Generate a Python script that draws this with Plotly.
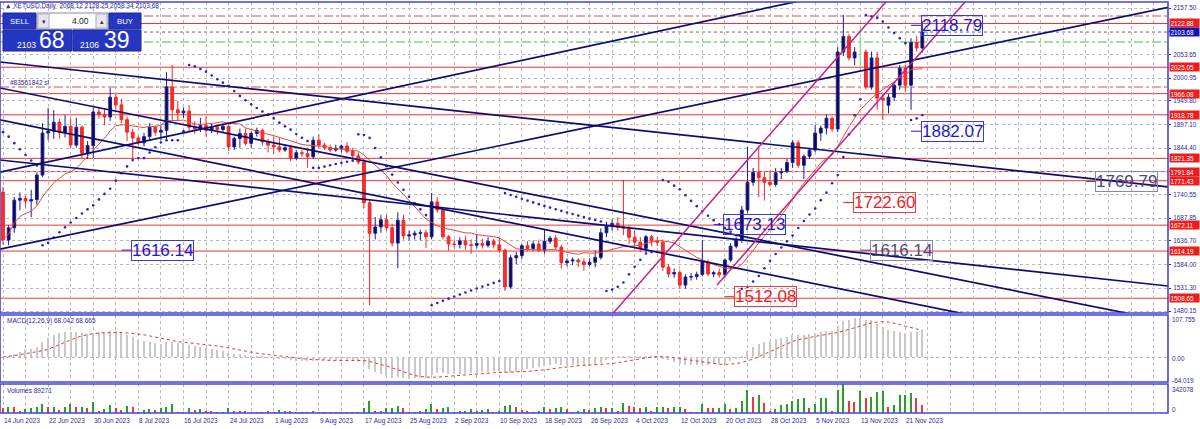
import pandas as pd
import numpy as np
import plotly.graph_objects as go

START = pd.Timestamp("2023-06-14")
dates = pd.date_range(START, periods=164, freq="D")

opens = [1746,1639,1666,1728,1732,1726,1729,1784,1878,1882,1902,1880,1893,1851,1891,1833,1850,1925,1920,1914,
         1958,1941,1908,1880,1867,1856,1870,1891,1880,1884,1981,1930,1923,1927,1891,1887,1895,1884,1891,1886,
         1893,1847,1866,1877,1855,1877,1884,1858,1851,1847,1840,1845,1822,1834,1832,1825,1862,1851,1845,1840,
         1844,1849,1837,1827,1813,1722,1654,1668,1684,1666,1632,1683,1648,1650,1654,1655,1646,1724,1706,1646,
         1630,1629,1637,1628,1627,1631,1627,1636,1628,1616,1534,1599,1604,1626,1620,1630,1616,1636,1643,1623,
         1588,1592,1594,1590,1584,1589,1600,1655,1670,1676,1668,1665,1645,1634,1620,1646,1636,1634,1578,1563,
         1566,1538,1556,1557,1562,1590,1563,1566,1561,1594,1625,1640,1706,1768,1790,1778,1768,1763,1789,1792,
         1812,1856,1806,1826,1840,1878,1889,1911,1887,2059,2094,2046,2059,2059,1981,2046,1956,1940,1958,1985,
         2023,1985,2081,2068.12]
highs = [1757,1672,1735,1745,1738,1751,1790,1900,1934,1929,1910,1918,1910,1912,1895,1860,1935,1935,1932,1979,
         1965,1955,1915,1888,1872,1878,1900,1895,1895,2014,2030,1950,1935,1940,1905,1912,1915,1898,1896,1900,
         1897,1870,1888,1888,1882,1890,1888,1865,1870,1868,1852,1850,1840,1840,1845,1870,1875,1856,1852,1852,
         1852,1858,1845,1835,1820,1728,1690,1695,1695,1675,1701,1695,1660,1660,1662,1662,1744,1735,1712,1650,
         1640,1645,1648,1640,1652,1642,1645,1642,1645,1620,1605,1612,1630,1636,1638,1640,1661,1648,1650,1628,
         1598,1600,1598,1598,1598,1615,1665,1680,1685,1690,1773,1672,1660,1645,1650,1650,1645,1640,1585,1575,
         1572,1562,1565,1568,1639,1595,1570,1575,1598,1632,1645,1715,1847,1800,1850,1792,1795,1800,1800,1820,
         1862,1862,1830,1845,1896,1895,1920,1915,2070,2142,2100,2070,2119,2065,2060,2060,1965,1965,1990,2030,
         2030,2090,2095,2128.25]
lows = [1628,1627,1655,1705,1712,1690,1718,1780,1862,1865,1865,1868,1845,1845,1820,1820,1822,1910,1895,1905,
        1930,1900,1860,1822,1850,1848,1860,1872,1862,1862,1905,1905,1912,1882,1876,1880,1870,1878,1875,1880,
        1838,1840,1845,1850,1845,1870,1850,1835,1832,1835,1836,1815,1818,1825,1800,1820,1845,1840,1835,1836,
        1835,1832,1820,1808,1710,1493,1640,1655,1660,1625,1576,1640,1638,1640,1638,1621,1640,1700,1640,1615,
        1620,1620,1617,1608,1620,1620,1622,1620,1610,1525,1530,1585,1596,1615,1615,1612,1608,1630,1618,1575,
        1580,1583,1578,1570,1580,1578,1595,1645,1660,1660,1650,1630,1625,1612,1612,1625,1625,1570,1555,1555,
        1530,1530,1548,1550,1558,1558,1555,1555,1555,1590,1620,1632,1700,1760,1735,1727,1758,1758,1775,1788,
        1800,1800,1775,1820,1835,1860,1875,1880,1880,2050,2040,2030,2026,1975,1975,1930,1907,1922,1950,1975,
        1970,1930,2060,2058.34]
closes = [1639,1666,1728,1732,1726,1729,1784,1878,1882,1902,1880,1893,1851,1891,1833,1850,1925,1920,1914,1958,
          1941,1908,1880,1867,1856,1870,1891,1880,1884,1981,1930,1923,1927,1891,1887,1895,1884,1891,1886,1893,
          1847,1866,1877,1855,1877,1884,1858,1851,1847,1840,1845,1822,1834,1832,1825,1862,1851,1845,1840,1844,
          1849,1837,1827,1813,1722,1654,1668,1684,1666,1632,1683,1648,1650,1654,1655,1646,1724,1706,1646,1630,
          1629,1637,1628,1627,1631,1627,1636,1628,1616,1534,1599,1604,1626,1620,1630,1616,1636,1643,1623,1588,
          1592,1594,1590,1584,1589,1600,1655,1670,1676,1668,1665,1645,1634,1620,1646,1636,1634,1578,1563,1566,
          1538,1556,1557,1562,1590,1563,1566,1561,1594,1625,1640,1706,1768,1790,1778,1768,1763,1789,1792,1812,
          1856,1806,1826,1840,1878,1889,1911,1887,2059,2094,2046,2059,2059,1981,2046,1956,1952,1958,1985,2023,
          1985,2081,2068,2103.68]
volumes = [55000,74700,66800,27500,47200,59000,70800,106200,70800,74700,35400,66800,106200,66800,74700,55000,133700,27500,47200,90400,
           55000,35400,82600,66800,7900,35400,51100,35400,62900,74700,102200,7900,3900,55000,35400,47200,27500,15700,3900,11800,
           55000,27500,28500,23600,11800,3900,11800,23600,3900,35400,15700,23600,3900,3900,7900,23600,11800,3900,2000,2000,
           3900,3900,7900,11800,62900,141600,23600,22000,55000,57000,86500,55000,3900,3900,15700,47200,106200,51100,59000,66800,
           11800,19700,27500,47200,19700,35400,47200,3900,19700,86500,90000,66800,35400,23600,11800,15700,66800,47200,55000,66800,
           47200,7900,15700,51100,35400,55000,66800,59000,61000,15700,114000,82600,66800,59000,66800,15700,66800,74700,62900,74700,
           76000,47200,3900,11800,106200,59000,58000,62900,102200,43300,55000,145500,271300,184800,212300,114000,27500,43300,94400,106200,
           145500,161200,173000,55000,102200,173000,177000,15700,271300,342078,145500,133700,259500,177000,184800,243800,255600,66800,94400,208400,
           212000,235900,173000,89271]

# levels and price scale
red_levels = [2122.88, 2025.05, 1966.08, 1918.78, 1821.35, 1791.84, 1771.43, 1672.11, 1614.19, 1508.65]
red_dashdot_levels = [2139.60, 1980.90]
green_dashdot_levels = [2081.50]
bid_price = 2103.68
price_ticks = [2157.50, 2105.58, 2053.65, 2000.95, 1949.80, 1897.10, 1844.40, 1792.48,
               1740.55, 1687.85, 1636.70, 1584.00, 1531.30, 1480.15]
price_tick_text = ["2157.50", "", "2053.65", "2000.95", "1949.80", "1897.10", "1844.40", "",
                   "1740.55", "1687.85", "1636.70", "1584.00", "1531.30", "1480.15"]

# trend lines: (date, price) anchor pairs
navy_line_dates = [("2023-06-14", "2023-11-21"), ("2023-06-14", "2023-09-22"), ("2023-06-14", "2023-11-21"),
                   ("2023-06-14", "2023-09-22"), ("2023-06-14", "2023-09-22"), ("2023-06-14", "2023-09-22")]
navy_line_prices = [(1620.1, 2037.5), (1792.2, 2062.0), (2036.1, 1820.3),
                    (1977.3, 1725.3), (1905.8, 1652.3), (1817.0, 1681.0)]
# pink channel: first line crosses the whole pane, second one starts at its first anchor
pink_line_dates = [("2023-10-22 00:00", "2023-11-11 00:00"), ("2023-10-18 14:24", "2023-11-11 00:00")]
pink_line_prices = [(1789.1, 2076.8), (1538.3, 1875.0)]
pink_starts_at_anchor = [False, True]

# price labels drawn on the chart
label_texts = ["1616.14", "1673.13", "1616.14", "1512.08", "1722.60", "1882.07", "2118.79", "1769.79"]
label_values = [1616.14, 1673.13, 1616.14, 1512.08, 1722.60, 1882.07, 2118.79, 1769.79]
label_dates = ["2023-07-05", "2023-10-18", "2023-11-13", "2023-10-20", "2023-11-10", "2023-11-22", "2023-11-22", "2023-12-23"]
label_kinds = ["blue", "blue", "gray", "red", "red", "blue", "blue", "gray"]

date_labels = ["14 Jun 2023", "22 Jun 2023", "30 Jun 2023", "8 Jul 2023", "16 Jul 2023", "24 Jul 2023",
               "1 Aug 2023", "9 Aug 2023", "17 Aug 2023", "25 Aug 2023", "2 Sep 2023", "10 Sep 2023",
               "18 Sep 2023", "26 Sep 2023", "4 Oct 2023", "12 Oct 2023", "20 Oct 2023", "28 Oct 2023",
               "5 Nov 2023", "13 Nov 2023", "21 Nov 2023"]

macd_max, macd_min = 107.755, -64.019
macd_shown = (68.042, 68.665)
vol_max = 342078
doji_index = [152]
sar_start = 1880.0

# ---------------- figure geometry ----------------
W, H = 1200, 429
PW, PH = 1168, 413           # plot area (pixels)
def px(x): return x / PW
def py(y): return 1 - y / PH

FONT = "Liberation Sans"
NAVY_TXT = "#2b2b9a"

close_s = pd.Series(closes, dtype=float)
ma = close_s.rolling(14, min_periods=1).mean()
ema12 = close_s.ewm(span=12, adjust=False).mean()
ema26 = close_s.ewm(span=26, adjust=False).mean()
macd_main = ema12 - ema26
macd_signal = macd_main.rolling(9, min_periods=1).mean()

def psar(hi, lo, s0, step=0.02, amax=0.2):
    n = len(hi)
    out = [s0]
    up = False
    s, ep, af = s0, lo[0], step * 2
    for i in range(1, n):
        s = s + af * (ep - s)
        if up:
            s = min(s, lo[i - 1], lo[i - 2] if i >= 2 else lo[i - 1])
            if lo[i] < s:
                up, s, ep, af = False, ep, lo[i], step
            elif hi[i] > ep:
                ep, af = hi[i], min(af + step, amax)
        else:
            s = max(s, hi[i - 1], hi[i - 2] if i >= 2 else hi[i - 1])
            if hi[i] > s:
                up, s, ep, af = True, ep, hi[i], step
            elif lo[i] < ep:
                ep, af = lo[i], min(af + step, amax)
        out.append(s)
    return out

sar = psar(highs, lows, sar_start)

o_c = list(opens); h_c = list(highs); l_c = list(lows); c_c = list(closes)
for i in doji_index:
    o_c[i] = h_c[i] = l_c[i] = c_c[i] = None

fig = go.Figure()

fig.add_trace(go.Candlestick(
    x=dates, open=o_c, high=h_c, low=l_c, close=c_c,
    increasing=dict(line=dict(color="#1e1e96", width=1), fillcolor="#0b0b48"),
    decreasing=dict(line=dict(color="#f02828", width=1), fillcolor="#f52f2f"),
    whiskerwidth=0, showlegend=False, xaxis="x", yaxis="y"))

for i in doji_index:
    fig.add_trace(go.Scatter(x=[dates[i], dates[i]], y=[lows[i], highs[i]], mode="lines",
                             line=dict(color="#6ee06e", width=1), showlegend=False))

fig.add_trace(go.Scatter(x=dates, y=ma, mode="lines", line=dict(color="#e8493a", width=1), showlegend=False))
fig.add_trace(go.Scatter(x=dates, y=sar, mode="markers", marker=dict(color="#2525c8", size=2.6), showlegend=False))

def day_of(t):
    return (pd.Timestamp(t) - START) / pd.Timedelta(days=1)

def extend(dpair, ppair, from_anchor=False, d_lo=-5, d_hi=215):
    d0, d1 = day_of(dpair[0]), day_of(dpair[1])
    k = (ppair[1] - ppair[0]) / (d1 - d0)
    lo = d0 if from_anchor else d_lo
    xs = [START + pd.Timedelta(days=lo), START + pd.Timedelta(days=d_hi)]
    ys = [ppair[0] + k * (lo - d0), ppair[0] + k * (d_hi - d0)]
    return xs, ys

for dp, pp in zip(navy_line_dates, navy_line_prices):
    xs, ys = extend(dp, pp)
    fig.add_trace(go.Scatter(x=xs, y=ys, mode="lines", line=dict(color="#0d0d70", width=1.7), showlegend=False))
for dp, pp, fa in zip(pink_line_dates, pink_line_prices, pink_starts_at_anchor):
    xs, ys = extend(dp, pp, from_anchor=fa)
    fig.add_trace(go.Scatter(x=xs, y=ys, mode="lines", line=dict(color="#c4208c", width=1.5), showlegend=False))

# MACD pane
fig.add_trace(go.Bar(x=dates, y=macd_main, marker=dict(color="#c9c9c9", line=dict(width=0)),
                     width=0.22 * 86400000, xaxis="x2", yaxis="y2", showlegend=False))
fig.add_trace(go.Scatter(x=dates, y=macd_signal, mode="lines", line=dict(color="#e03a3a", width=1, dash="dot"),
                         xaxis="x2", yaxis="y2", showlegend=False))

# Volume pane
vol_colors = ["#e83a3a"] + ["#2a9d2a" if volumes[i] > volumes[i - 1] else "#e83a3a" for i in range(1, len(volumes))]
fig.add_trace(go.Bar(x=dates, y=volumes, marker=dict(color=vol_colors, line=dict(width=0)),
                     width=0.25 * 86400000, xaxis="x3", yaxis="y3", showlegend=False))

x_range = [START + pd.Timedelta(days=-0.532), START + pd.Timedelta(days=206.56)]
grid_col = "#b9b9b9"
xcommon = dict(type="date", range=x_range, showgrid=True, gridcolor=grid_col, griddash="dot", gridwidth=1,
               tick0="2023-06-14", dtick=4 * 86400000, showticklabels=False, ticks="", zeroline=False,
               showline=False, rangeslider=dict(visible=False))

main_dom = [py(313), py(2)]
macd_dom = [py(382), py(315)]
vol_dom = [py(413), py(384)]

pp_px = (2157.50 - 1480.15) / (311 - 8)
y_top = 2157.50 + (8 - 2) * pp_px
y_bot = 1480.15 - (313 - 311) * pp_px

fig.update_layout(
    width=W, height=H, margin=dict(l=0, r=W - PW, t=0, b=H - PH, pad=0),
    paper_bgcolor="white", plot_bgcolor="white", showlegend=False, bargap=0,
    font=dict(family=FONT, size=7, color=NAVY_TXT),
    xaxis=dict(**xcommon, anchor="y", domain=[0, 1]),
    xaxis2=dict(**xcommon, anchor="y2", matches="x", domain=[0, 1]),
    xaxis3=dict(**xcommon, anchor="y3", matches="x", domain=[0, 1]),
    yaxis=dict(domain=main_dom, range=[y_bot, y_top], side="right", tickvals=price_ticks, ticktext=price_tick_text,
               showgrid=True, gridcolor=grid_col, griddash="dot", ticks="outside", ticklen=2, tickcolor=NAVY_TXT,
               ticklabelstandoff=1,
               tickfont=dict(size=6.4, color=NAVY_TXT), zeroline=False, anchor="x"),
    yaxis2=dict(domain=macd_dom, range=[macd_min, macd_max], side="right", tickvals=[0], showticklabels=False,
                showgrid=True, gridcolor=grid_col, griddash="dot", zeroline=False, anchor="x2"),
    yaxis3=dict(domain=vol_dom, range=[0, vol_max], side="right", showticklabels=False, showgrid=False,
                zeroline=False, anchor="x3"),
)

shapes = []
for lv in red_levels:
    shapes.append(dict(type="line", xref="paper", x0=0, x1=1, yref="y", y0=lv, y1=lv,
                       line=dict(color="#ee3434", width=1), layer="between"))
for lv in red_dashdot_levels:
    shapes.append(dict(type="line", xref="paper", x0=0, x1=1, yref="y", y0=lv, y1=lv,
                       line=dict(color="#e64a4a", width=1, dash="dashdot"), layer="between"))
for lv in green_dashdot_levels:
    shapes.append(dict(type="line", xref="paper", x0=0, x1=1, yref="y", y0=lv, y1=lv,
                       line=dict(color="#4cb84c", width=1, dash="dashdot"), layer="between"))
shapes.append(dict(type="line", xref="paper", x0=0, x1=1, yref="y", y0=bid_price, y1=bid_price,
                   line=dict(color="#707080", width=1, dash="dot"), layer="between"))
BORDER = "#4646d6"
for dom in (main_dom, macd_dom, vol_dom):
    shapes.append(dict(type="rect", xref="paper", yref="paper", x0=0, x1=1, y0=dom[0], y1=dom[1],
                       line=dict(color=BORDER, width=1.6), fillcolor="rgba(0,0,0,0)", layer="above"))

PANEL = "#2536c2"
def prect(x0, y0, x1, y1, fill, line=None):
    shapes.append(dict(type="rect", xref="paper", yref="paper", x0=px(x0), x1=px(x1), y0=py(y1), y1=py(y0),
                       fillcolor=fill, line=dict(color=line or fill, width=1), layer="above"))
prect(3, 13, 36, 29, PANEL, "#1a2690")
prect(37, 13, 108, 29, "#ffffff", "#8a8aa8")
prect(38, 14, 49, 28, "#e6e6ee", "#b0b0c0")
prect(96, 14, 107, 28, "#e6e6ee", "#b0b0c0")
prect(109, 13, 141, 29, PANEL, "#1a2690")
prect(3, 30, 72, 51, PANEL, "#1a2690")
prect(73, 30, 141, 51, PANEL, "#1a2690")
fig.update_layout(shapes=shapes)

ann = []
def ptxt(x, y, text, size, color, xanchor="center", yanchor="middle", **kw):
    ann.append(dict(xref="paper", yref="paper", x=px(x), y=py(y), text=text, showarrow=False,
                    font=dict(size=size, color=color, family=FONT), xanchor=xanchor, yanchor=yanchor, **kw))

ptxt(3, 5.5, "▲ XETUSD,Daily  2068.12 2128.25 2058.34 2103.68", 6.5, NAVY_TXT, xanchor="left")
ptxt(20, 21.5, "SELL", 7.8, "#ffffff")
ptxt(43.5, 21.5, "▾", 7, "#333344")
ptxt(101.5, 21.5, "▴", 7, "#333344")
ptxt(91, 21.5, "4.00", 8.5, "#222222", xanchor="right")
ptxt(125, 21.5, "BUY", 7.8, "#ffffff")
ptxt(15, 45, "2103", 8.5, "#ffffff", xanchor="left")
ptxt(37, 40, "68", 23, "#ffffff", xanchor="left")
ptxt(78, 45, "2106", 8.5, "#ffffff", xanchor="left")
ptxt(102, 40, "39", 23, "#ffffff", xanchor="left")

ann.append(dict(xref="paper", yref="y", x=px(8), y=red_dashdot_levels[1], yshift=5, text="#83561842 sl",
                showarrow=False, xanchor="left", yanchor="middle", font=dict(size=6.5, color=NAVY_TXT, family=FONT)))

for lv in red_levels:
    ann.append(dict(xref="paper", yref="y", x=1, y=lv, text=f"{lv:.2f}", showarrow=False, xanchor="left",
                    xshift=1, bgcolor="#f01c1c", borderpad=0.5, width=28, align="left",
                    font=dict(size=6.4, color="#ffffff", family=FONT)))
ann.append(dict(xref="paper", yref="y", x=1, y=bid_price, text=f"{bid_price:.2f}", showarrow=False, xanchor="left",
                xshift=1, bgcolor="#1414b4", borderpad=0.5, width=28, align="left",
                font=dict(size=6.4, color="#ffffff", family=FONT)))

def sublabel(y, text):
    ann.append(dict(xref="paper", yref="paper", x=1, y=py(y), text=text, showarrow=False, xanchor="left",
                    xshift=2, yanchor="middle", font=dict(size=6.4, color=NAVY_TXT, family=FONT)))
sublabel(319, f"{macd_max:.3f}")
sublabel(358, "0.00")
sublabel(380, f"{macd_min:.3f}")
sublabel(389, f"{vol_max}")
sublabel(409, "0")
ptxt(5, 320.5, f"MACD(12,26,9) {macd_shown[0]:.3f} {macd_shown[1]:.3f}", 6.5, NAVY_TXT, xanchor="left")
ptxt(5, 390, f"Volumes {volumes[-1]}", 6.5, NAVY_TXT, xanchor="left")

kind_col = {"blue": ("#1a1ad2", "#3a3ad0"), "red": ("#ee1e1e", "#ee3a3a"), "gray": ("#4a4a7e", "#8888a8")}
for t, v, d, k in zip(label_texts, label_values, label_dates, label_kinds):
    tc, bc = kind_col[k]
    ann.append(dict(xref="x", yref="y", x=pd.Timestamp(d), y=v, text=t, showarrow=True, arrowhead=0,
                    arrowwidth=1, arrowcolor=tc, ax=41, ay=0, standoff=0,
                    font=dict(size=17, color=tc, family=FONT), bordercolor=bc, borderwidth=1, borderpad=0))

for i, t in enumerate(date_labels):
    ann.append(dict(xref="x", yref="paper", x=START + pd.Timedelta(days=8 * i), y=0, text=t, showarrow=False,
                    xanchor="left", yanchor="top", yshift=-2, xshift=-1,
                    font=dict(size=6.5, color=NAVY_TXT, family=FONT)))

fig.update_layout(annotations=ann)
fig.write_html("out.html", config={"displayModeBar": False},
               post_script="document.body.style.margin='0px';document.body.style.padding='0px';")
